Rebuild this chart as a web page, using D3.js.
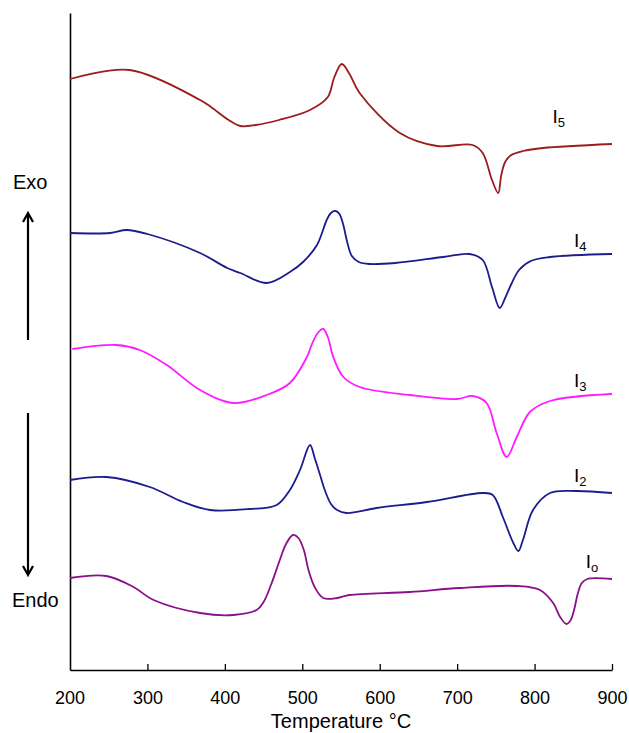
<!DOCTYPE html>
<html>
<head>
<meta charset="utf-8">
<script src="https://cdn.jsdelivr.net/npm/d3@7"></script>
<style>
  body { margin: 0; background: #fff; }
  text { font-family: Arial, "Liberation Sans", sans-serif; fill: #000; }
</style>
</head>
<body>
<div id="chart"></div>
<script>
let dim = { 'width': 629, 'height': 733 };
let margin = { top: 13, right: 17, bottom: 63, left: 70 };

// heat flow, arbitrary units (curves are stacked)
let tempI5 = [200, 277, 368, 382, 405, 420, 440, 470, 510, 533, 541, 551, 561, 574, 626, 674, 720, 733, 745, 753, 757, 762, 770, 785, 811, 900];
let flowI5 = [591, 600, 570, 563, 550, 544, 545, 550, 560, 573, 592, 606, 596, 577, 537, 524, 525, 517, 490, 477, 495, 508, 515, 519, 522, 526];

let tempI4 = [200, 252, 273, 300, 368, 403, 420, 454, 484, 501, 519, 525, 531, 537, 543, 548, 553, 558, 564, 573, 587, 620, 682, 716, 733, 745, 755, 762, 770, 780, 795, 820, 900];
let flowI4 = [437, 437, 440, 436, 417, 402, 397, 387, 398, 408, 425, 436, 449, 457, 459, 456, 445, 428, 414, 408, 406, 407, 413, 416, 410, 383, 362, 372, 386, 400, 409, 413, 416];

let tempI3 = [203, 260, 290, 325, 368, 411, 454, 484, 506, 512, 520, 527, 533, 540, 553, 574, 639, 700, 720, 738, 751, 764, 777, 794, 820, 900];
let flowI3 = [321, 325, 320, 305, 280, 267, 275, 287, 313, 325, 337, 341, 333, 313, 293, 283, 275, 271, 274, 267, 237, 213, 233, 258, 269, 276];

let tempI2 = [200, 247, 303, 346, 381, 432, 467, 484, 497, 510, 516, 523, 529, 537, 545, 557, 596, 661, 733, 746, 759, 772, 779, 785, 798, 820, 854, 900];
let flowI2 = [190, 193, 183, 168, 160, 161, 165, 180, 200, 225, 212, 195, 180, 166, 160, 157, 162, 168, 177, 175, 153, 128, 119, 130, 160, 177, 179, 177];

let tempI0 = [200, 247, 282, 308, 368, 411, 441, 450, 460, 471, 479, 488, 495, 502, 508, 516, 527, 545, 561, 639, 703, 777, 807, 824, 833, 841, 846, 851, 856, 861, 868, 900];
let flowI0 = [92, 94, 83, 70, 57, 55, 60, 68, 86, 110, 126, 135, 132, 120, 100, 83, 72, 72, 75, 78, 82, 84, 80, 67, 53, 46, 49, 60, 77, 87, 91, 91];

let seriesNames = ['I5', 'I4', 'I3', 'I2', 'I0'];
let seriesColors = ['#9a1c1c', '#1c1c8c', '#ff1aff', '#1c1c8c', '#8a0f8a'];
let labelMain = ['I', 'I', 'I', 'I', 'I'];
let labelSub = ['5', '4', '3', '2', 'o'];
let labelTemp = [823, 851, 851, 851, 866];
let labelFlow = [547, 423, 283, 188, 102];

let xTicks = [300, 400, 500, 600, 700, 800, 900];

let series = [
  { name: 'I5', temp: tempI5, flow: flowI5 },
  { name: 'I4', temp: tempI4, flow: flowI4 },
  { name: 'I3', temp: tempI3, flow: flowI3 },
  { name: 'I2', temp: tempI2, flow: flowI2 },
  { name: 'I0', temp: tempI0, flow: flowI0 }
];

let svg = d3.select('#chart').append('svg')
    .attr('width', dim.width)
    .attr('height', dim.height);

let scaleX = d3.scaleLinear()
    .domain([200, 900])
    .range([margin.left, dim.width - margin.right]);

let scaleY = d3.scaleLinear()
    .domain([0, 657])
    .range([dim.height - margin.bottom, margin.top]);

let colors = d3.scaleOrdinal().domain(seriesNames).range(seriesColors);

// axes
let axisX = svg.append('g')
    .attr('transform', `translate(0,${dim.height - margin.bottom})`)
    .call(d3.axisBottom(scaleX).tickValues(xTicks).tickSizeInner(-6).tickSizeOuter(0).tickPadding(21));
axisX.select('.domain').attr('stroke', '#000').attr('stroke-width', 1.6);
axisX.selectAll('.tick line').attr('stroke', '#000').attr('stroke-width', 1.3);
axisX.selectAll('.tick text').attr('font-size', 18).attr('font-family', 'Arial, "Liberation Sans", sans-serif');

let axisY = svg.append('g')
    .attr('transform', `translate(${margin.left},0)`)
    .call(d3.axisLeft(scaleY).tickValues([]).tickSizeOuter(0));
axisY.select('.domain').attr('stroke', '#000').attr('stroke-width', 1.6);

// the 200 label sits at the origin, under the y axis
svg.append('text')
    .attr('x', scaleX(200))
    .attr('y', 704)
    .attr('text-anchor', 'middle')
    .attr('font-size', 18)
    .text('200');

svg.append('text')
    .attr('x', (scaleX(200) + scaleX(900)) / 2)
    .attr('y', 728)
    .attr('text-anchor', 'middle')
    .attr('font-size', 20)
    .text('Temperature °C');

// curves
let line = d3.line()
    .x(d => scaleX(d[0]))
    .y(d => scaleY(d[1]))
    .curve(d3.curveCatmullRom.alpha(0.5));

svg.selectAll('path.curve')
    .data(series)
    .join('path')
    .attr('class', 'curve')
    .attr('fill', 'none')
    .attr('stroke', d => colors(d.name))
    .attr('stroke-width', 1.8)
    .attr('d', d => line(d.temp.map((t, i) => [t, d.flow[i]])));

// series labels
let labels = svg.selectAll('text.lab')
    .data(seriesNames)
    .join('text')
    .attr('class', 'lab')
    .attr('x', (d, i) => scaleX(labelTemp[i]))
    .attr('y', (d, i) => scaleY(labelFlow[i]))
    .attr('font-size', 19);
labels.append('tspan').text((d, i) => labelMain[i]);
labels.append('tspan').attr('dy', 4).attr('font-size', 13).text((d, i) => labelSub[i]);

// Exo / Endo with arrows
svg.append('text').attr('x', 13).attr('y', 189).attr('font-size', 20).text('Exo');
svg.append('text').attr('x', 12).attr('y', 607).attr('font-size', 20).text('Endo');

svg.append('line').attr('x1', 28).attr('x2', 28).attr('y1', 340).attr('y2', 215)
    .attr('stroke', '#000').attr('stroke-width', 2.2);
svg.append('path').attr('d', 'M23,222 L28,213 L33,222')
    .attr('fill', 'none').attr('stroke', '#000').attr('stroke-width', 2.2);

svg.append('line').attr('x1', 28).attr('x2', 28).attr('y1', 413).attr('y2', 573)
    .attr('stroke', '#000').attr('stroke-width', 2.2);
svg.append('path').attr('d', 'M23,566 L28,575 L33,566')
    .attr('fill', 'none').attr('stroke', '#000').attr('stroke-width', 2.2);
</script>
</body>
</html>
